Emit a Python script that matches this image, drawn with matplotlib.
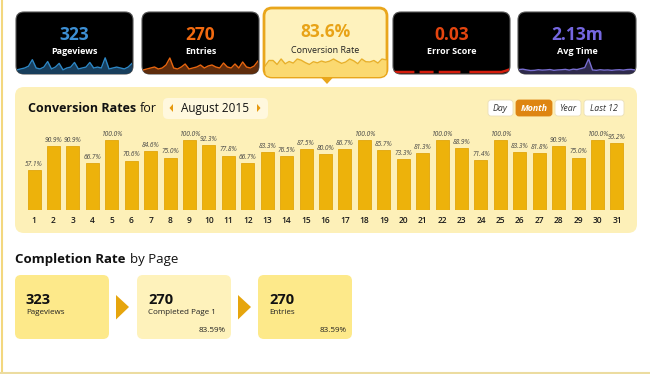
import matplotlib
matplotlib.use("Agg")
import matplotlib.pyplot as plt
from matplotlib.patches import FancyBboxPatch, Polygon
import numpy as np

plt.rcParams['font.family'] = ['Open Sans', 'DejaVu Sans']

# ---- data ----
days = list(range(1, 32))
conv_rates = [57.1, 90.9, 90.9, 66.7, 100.0, 70.6, 84.6, 75.0, 100.0, 92.3, 77.8,
              66.7, 83.3, 76.5, 87.5, 80.0, 86.7, 100.0, 85.7, 73.3, 81.3, 100.0,
              88.9, 71.4, 100.0, 83.3, 81.8, 90.9, 75.0, 100.0, 95.2]
pageviews_daily = [6, 7, 8, 10, 17, 8, 7, 9, 15, 7, 9, 13, 6, 8, 9, 14, 7, 8, 9,
                   14, 8, 9, 8, 19, 7, 8, 9, 8, 7, 9, 13]
entries_daily = [3, 4, 5, 6, 4, 5, 8, 15, 5, 4, 6, 9, 4, 5, 6, 8, 5, 7, 8, 6, 5,
                 10, 6, 5, 9, 5, 11, 6, 5, 7, 12]
error_daily = [0, 0, 0, 0, 0, 0, np.nan, 0, 0, 0, 0, np.nan, 0, 0, 0, 0, 0, 0,
               np.nan, np.nan, 0, 0, 0, 0, 0, 0, 0, 0, 0, 0.5, 1.2]
avgtime_daily = [2.0, 2.2, 1.8, 1.5, 1.6, 1.9, 1.7, 1.8, 2.0, 1.6, 1.8, 1.9, 2.1,
                 1.7, 2.2, 2.0, 2.5, 3.0, 7.5, 1.8, 1.6, 1.9, 1.7, 1.8, 1.6, 1.8,
                 1.9, 1.7, 2.0, 2.1, 1.8]

tile_values = ["323", "270", "83.6%", "0.03", "2.13m"]
tile_labels = ["Pageviews", "Entries", "Conversion Rate", "Error Score", "Avg Time"]

funnel_values = ["323", "270", "270"]
funnel_labels = ["Pageviews", "Completed Page 1", "Entries"]
funnel_pct = ["", "83.59%", "83.59%"]

periods = ["Day", "Month", "Year", "Last 12"]

W, H = 650, 374
fig = plt.figure(figsize=(W / 100, H / 100), dpi=100)
fig.patch.set_facecolor("white")


def px(x, y, w, h):
    return [x / W, 1 - (y + h) / H, w / W, h / H]


bg = fig.add_axes([0, 0, 1, 1])
bg.set_xlim(0, W)
bg.set_ylim(H, 0)
bg.axis("off")


def rbox(x, y, w, h, fc, ec="none", lw=0, r=7, z=1):
    p = FancyBboxPatch((x, y), w, h, boxstyle="round,pad=0,rounding_size=%s" % r,
                       fc=fc, ec=ec, lw=lw, zorder=z)
    bg.add_patch(p)
    return p


# page frame lines
bg.plot([1.5, 1.5], [0, H], color="#f3d77e", lw=1.5)
bg.plot([0, W], [373, 373], color="#ecdca0", lw=1.5)

# ---- top tiles ----
tiles = [(16, 12, 117, 62), (142, 12, 117, 62), (264, 8, 123, 69),
         (393, 12, 117, 62), (518, 12, 118, 62)]
num_colors = ["#3d8fd4", "#f26a10", "#e8a317", "#e4450f", "#7567e0"]
spark_series = [pageviews_daily, entries_daily, conv_rates, error_daily, avgtime_daily]
spark_line = ["#2d86c4", "#e7650f", "#e8b02a", "#d41c0c", "#7a6fd2"]
spark_fill = ["#183e5c", "#5e2c0c", "#fbd970", None, "#2e2a4c"]
spark_ylim = [(1.5, 21), (-1, 17), (-10.5, 124.6), (-1, 8), (-0.3, 9)]

for i, (x, y, w, h) in enumerate(tiles):
    if i == 2:
        patch = rbox(x, y, w, h, "#fef2bd", "#e9a61c", 2.0, r=8, z=2)
        bg.add_patch(Polygon([(321, 77.5), (333, 77.5), (327, 84)], closed=True,
                             fc="#e9a61c", ec="none", zorder=2))
        bg.text(x + w / 2, 32, tile_values[i], color=num_colors[i], fontsize=12.5,
                fontweight="bold", ha="center", va="center", zorder=5)
        bg.text(x + w / 2, 50, tile_labels[i], color="#222222", fontsize=6.5,
                ha="center", va="center", zorder=5)
        sy0, sy1 = 55, 77
    else:
        patch = rbox(x, y, w, h, "#000000", "#555555", 0.8, r=8, z=2)
        bg.text(x + w / 2, 35, tile_values[i], color=num_colors[i], fontsize=12.5,
                fontweight="bold", ha="center", va="center", zorder=5)
        bg.text(x + w / 2, 51, tile_labels[i], color="white", fontsize=6.5,
                fontweight="bold", ha="center", va="center", zorder=5)
        sy0, sy1 = 56, 74
    sax = fig.add_axes(px(x + 1, sy0, w - 2, sy1 - sy0))
    sax.axis("off")
    sax.set_xlim(0, 30)
    sax.set_ylim(*spark_ylim[i])
    xs = np.arange(len(spark_series[i]))
    vals = np.array(spark_series[i], dtype=float)
    if spark_fill[i] is not None:
        f = sax.fill_between(xs, vals, spark_ylim[i][0], color=spark_fill[i], lw=0)
        f.set_clip_path(patch)
    ln, = sax.plot(xs, vals, color=spark_line[i], lw=1.8 if i == 3 else 1.0)
    ln.set_clip_path(patch)

# ---- conversion panel ----
rbox(15, 87, 622, 146, "#fdf0b8", r=9)
t1 = bg.text(28, 108, "Conversion Rates", fontsize=9, fontweight="bold",
             color="#111111", va="center")
bg.annotate("for", xy=(1, 0.5), xycoords=t1, xytext=(3, 0),
            textcoords="offset points", fontsize=9, color="#111111",
            va="center", ha="left")
rbox(163, 98, 105, 21, "#fff8de", r=5)
bg.add_patch(Polygon([(173, 104), (173, 112), (169.5, 108)], fc="#e6990f", zorder=3))
bg.add_patch(Polygon([(257, 104), (257, 112), (260.5, 108)], fc="#e6990f", zorder=3))
bg.text(215, 108.5, "August 2015", fontsize=8.5, color="#111111", ha="center",
        va="center", zorder=4)

btn_x = [(488, 25), (516, 36), (555, 26), (584, 40)]
for (bx, bw), lab in zip(btn_x, periods):
    active = lab == "Month"
    rbox(bx, 100, bw, 16, "#de8512" if active else "white",
         "#de8512" if active else "#eadfb8", 0.6, r=3, z=3)
    bg.text(bx + bw / 2, 108, lab, fontsize=6.3, style="italic",
            fontweight="bold" if active else "normal",
            color="white" if active else "#333333", ha="center", va="center", zorder=4)

# bar chart axes: baseline at y=210, 100% at y=140
ax = fig.add_axes(px(24.3, 210 - 91, 602.4, 91))
ax.set_xlim(0.5, 31.5)
ax.set_ylim(0, 130)
ax.patch.set_visible(False)
ax.bar(days, conv_rates, width=0.67, color="#edb20b", edgecolor="#e2a50a", lw=0.6)
for d, v in zip(days, conv_rates):
    ax.text(d, v + 3, "%.1f%%" % v, fontsize=4.8, style="italic", color="#444444",
            ha="center", va="bottom")
ax.set_xticks(days)
ax.set_xticklabels([str(d) for d in days], fontsize=6, color="#1a1a1a",
                   fontweight="semibold")
ax.tick_params(axis="x", length=0, pad=4)
ax.set_yticks([])
for s in ax.spines.values():
    s.set_visible(False)

# ---- completion funnel ----
t2 = bg.text(15, 260, "Completion Rate", fontsize=9.5, fontweight="bold",
             color="#111111", va="center")
bg.annotate("by Page", xy=(1, 0.5), xycoords=t2, xytext=(3, 0),
            textcoords="offset points", fontsize=9.5, color="#111111",
            va="center", ha="left")

box_x = [15, 137, 258]
box_c = ["#fde98a", "#fef2bb", "#fde98a"]
for i, bx in enumerate(box_x):
    rbox(bx, 275, 94, 64, box_c[i], r=6)
    bg.text(bx + 11, 300, funnel_values[i], fontsize=10.5, fontweight="bold",
            color="#111111", va="center")
    bg.text(bx + 11, 312, funnel_labels[i], fontsize=5.8, color="#222222",
            va="center")
    if funnel_pct[i]:
        bg.text(bx + 89, 331, funnel_pct[i], fontsize=5.8, color="#222222",
                ha="right", va="center")
    if i < 2:
        ax0 = bx + 101
        bg.add_patch(Polygon([(ax0, 295), (ax0, 319.5), (ax0 + 13, 307)],
                             fc="#e6a50d", ec="none", zorder=2))

fig.savefig("out.png", dpi=100, facecolor="white")
